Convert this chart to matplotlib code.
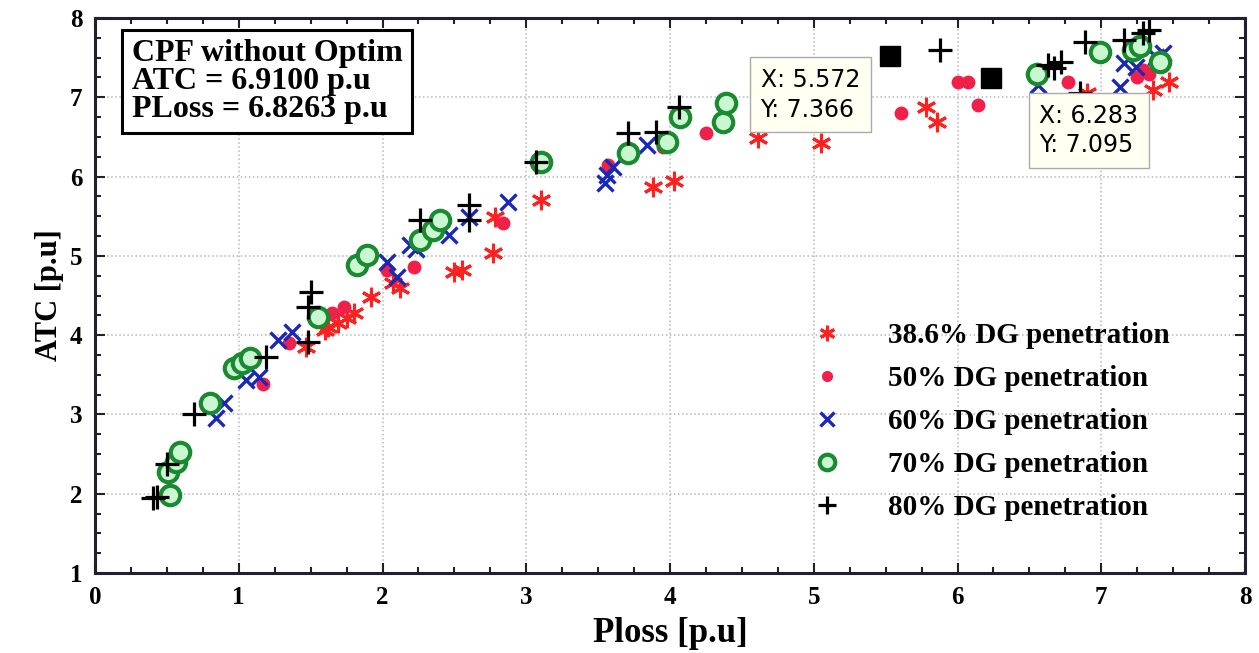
import numpy as np
import matplotlib.pyplot as plt
from matplotlib.ticker import MultipleLocator

# 38.6% DG penetration (red asterisks)
x386 = [1.47, 1.60, 1.62, 1.69, 1.75, 1.80, 1.92, 2.07, 2.12, 2.50, 2.55, 2.77, 2.78,
        3.10, 3.88, 4.03, 4.61, 5.05, 5.78, 5.86, 6.90, 7.36, 7.47]
y386 = [3.85, 4.06, 4.10, 4.15, 4.22, 4.28, 4.48, 4.66, 4.60, 4.80, 4.82, 5.03, 5.49,
        5.70, 5.87, 5.95, 6.49, 6.42, 6.88, 6.69, 7.05, 7.09, 7.19]

# 50% DG penetration (red dots)
x50 = [1.17, 1.35, 1.65, 1.73, 2.03, 2.22, 2.84, 3.57, 3.95, 4.25, 5.61, 6.00, 6.07,
       6.14, 6.77, 7.25, 7.29, 7.33]
y50 = [3.38, 3.90, 4.28, 4.35, 4.82, 4.86, 5.41, 6.14, 6.37, 6.55, 6.80, 7.19, 7.19,
       6.90, 7.19, 7.25, 7.34, 7.30]

# 60% DG penetration (blue x)
x60 = [0.84, 0.90, 1.05, 1.14, 1.27, 1.37, 2.03, 2.10, 2.19, 2.23, 2.46, 2.60, 2.87,
       3.55, 3.56, 3.60, 3.84, 6.56, 7.13, 7.16, 7.24, 7.38, 7.43]
y60 = [2.96, 3.14, 3.43, 3.47, 3.94, 4.04, 4.92, 4.73, 5.14, 5.09, 5.26, 5.49, 5.68,
       5.92, 6.02, 6.12, 6.40, 7.15, 7.13, 7.43, 7.38, 7.51, 7.56]

# 70% DG penetration (green circles)
x70 = [0.52, 0.51, 0.56, 0.59, 0.80, 0.97, 1.02, 1.08, 1.55, 1.82, 1.89, 2.26, 2.35,
       2.40, 3.10, 3.71, 3.98, 4.07, 4.37, 4.39, 6.55, 6.99, 7.22, 7.27, 7.41]
y70 = [1.98, 2.27, 2.40, 2.53, 3.14, 3.58, 3.65, 3.71, 4.23, 4.88, 5.01, 5.20, 5.33,
       5.45, 6.18, 6.30, 6.44, 6.75, 6.69, 6.93, 7.30, 7.57, 7.60, 7.65, 7.44]

# 80% DG penetration (black plus)
x80 = [0.40, 0.43, 0.50, 0.69, 1.19, 1.48, 1.48, 1.50, 2.26, 2.60, 2.60, 3.07, 3.71,
       3.90, 4.06, 5.88, 6.63, 6.67, 6.72, 6.85, 6.89, 7.16, 7.29, 7.33]
y80 = [1.95, 1.96, 2.38, 3.00, 3.72, 3.91, 4.35, 4.54, 5.45, 5.45, 5.64, 6.18, 6.55,
       6.56, 6.88, 7.60, 7.41, 7.37, 7.44, 7.05, 7.70, 7.72, 7.81, 7.85]

# data tips
tip_x = [5.572, 6.283]
tip_y = [7.366, 7.095]
tip_mark_x = [5.53, 6.23]
tip_mark_y = [7.52, 7.24]

serif = ["Liberation Serif", "DejaVu Serif"]

fig = plt.figure(figsize=(12.59, 6.53), dpi=100)
ax = fig.add_axes([95/1259, 1 - 573/653, 1150/1259, 555/653])

ax.plot(x386, y386, ls="none", marker=(6, 2, 0), ms=14, color="#ff2020", mew=2.2, label="38.6% DG penetration")
ax.plot(x50, y50, ls="none", marker="o", ms=10, color="#f0204a", mew=0, label="50% DG penetration")
ax.plot(x60, y60, ls="none", marker="x", ms=12, color="#1a28b8", mew=2.4, label="60% DG penetration")
ax.plot(x70, y70, ls="none", marker="o", ms=14, mfc="#c8f7d0", mec="#1a8a30", mew=3, label="70% DG penetration")
ax.plot(x80, y80, ls="none", marker="+", ms=17, color="black", mew=2.3, label="80% DG penetration")

ax.plot(tip_mark_x, tip_mark_y, ls="none", marker="s", ms=14, color="black")

ax.set_xlim(0, 8)
ax.set_ylim(1, 8)
ax.xaxis.set_major_locator(MultipleLocator(1))
ax.yaxis.set_major_locator(MultipleLocator(1))
ax.xaxis.set_minor_locator(MultipleLocator(0.25))
ax.yaxis.set_minor_locator(MultipleLocator(0.25))
ax.tick_params(which="both", direction="in", top=True, right=True, width=1.5, color="#222")
ax.tick_params(which="major", length=7, labelsize=18, pad=9)
ax.tick_params(which="minor", length=4)
for lab in ax.get_xticklabels() + ax.get_yticklabels():
    lab.set_family(serif)
    lab.set_fontweight("bold")
ax.grid(True, which="major", color="#b8b8b8", ls=":", lw=1.1)
for sp in ax.spines.values():
    sp.set_linewidth(2.2)
    sp.set_color("#202030")

ax.set_xlabel("Ploss [p.u]", family=serif, fontsize=25, fontweight="bold", labelpad=6)
ax.set_ylabel("ATC [p.u]", family=serif, fontsize=22, fontweight="bold", labelpad=4)

ax.text(0.032, 0.962, "CPF without Optim\nATC = 6.9100 p.u\nPLoss = 6.8263 p.u",
        transform=ax.transAxes, va="top", ha="left", family=serif, fontsize=23,
        fontweight="bold", linespacing=0.95,
        bbox=dict(boxstyle="square,pad=0.3", fc="white", ec="black", lw=2.2))

for tx, ty, bx, by in zip(tip_x, tip_y, [4.63, 6.57], [7.37, 6.92]):
    ax.text(bx, by, "X: %.3f\nY: %.3f" % (tx, ty), family="DejaVu Sans", fontsize=17,
            va="top", ha="left", linespacing=1.3,
            bbox=dict(boxstyle="square,pad=0.45", fc="#fffff2", ec="#aaaaaa", lw=1))

leg = ax.legend(loc="upper left", bbox_to_anchor=(0.588, 0.5), frameon=False,
                prop=dict(family=serif, size=21, weight="bold"),
                labelspacing=0.55, handletextpad=1.1, markerscale=0.8)

fig.savefig("out.png", dpi=100)
